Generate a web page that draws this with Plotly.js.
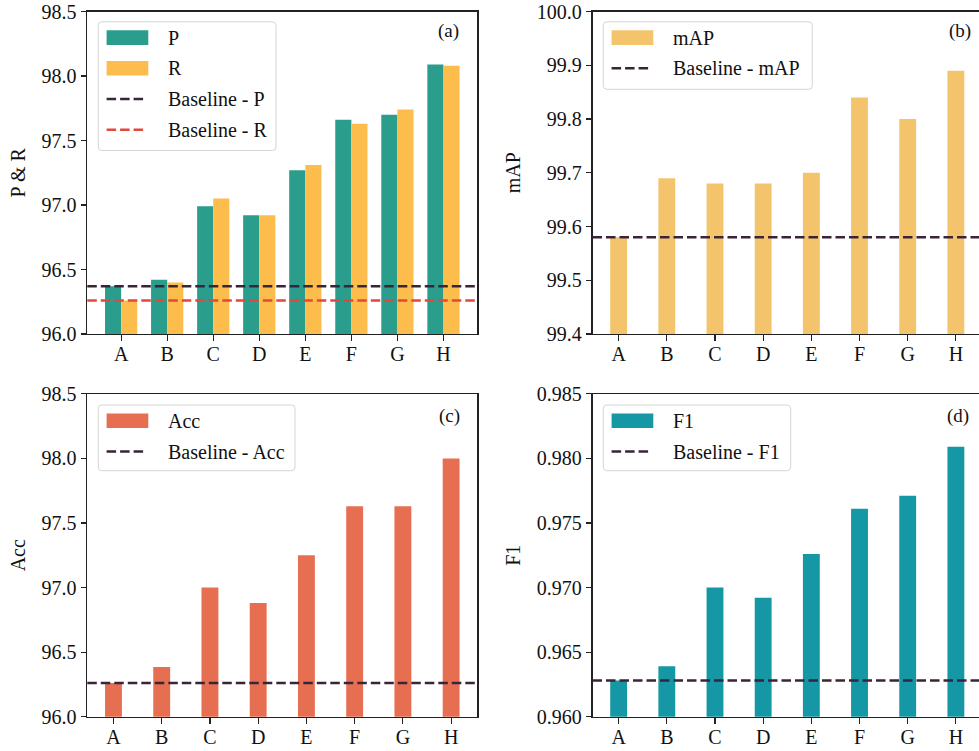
<!DOCTYPE html>
<html>
<head>
<meta charset="utf-8">
<script src="https://cdn.plot.ly/plotly-3.0.1.min.js"></script>
<style>
  html, body { margin: 0; padding: 0; background: #fff; }
  #chart { width: 979px; height: 751px; }
</style>
</head>
<body>
<div id="chart"></div>
<script>
// ---------------- data ----------------
const categories = ['A', 'B', 'C', 'D', 'E', 'F', 'G', 'H'];

const pValues   = [96.37, 96.42, 96.99, 96.92, 97.27, 97.66, 97.70, 98.09];
const rValues   = [96.26, 96.40, 97.05, 96.92, 97.31, 97.63, 97.74, 98.08];
const baselineP = 96.37;
const baselineR = 96.26;

const mapValues   = [99.58, 99.69, 99.68, 99.68, 99.70, 99.84, 99.80, 99.89];
const baselineMap = 99.58;

const accValues   = [96.26, 96.385, 97.00, 96.88, 97.25, 97.63, 97.63, 98.00];
const baselineAcc = 96.26;

const f1Values   = [0.9628, 0.9639, 0.9700, 0.9692, 0.9726, 0.9761, 0.9771, 0.9809];
const baselineF1 = 0.9628;

const yTitles     = ['P & R', 'mAP', 'Acc', 'F1'];
const panelLabels = ['(a)', '(b)', '(c)', '(d)'];
const legendNames = {
  a: ['P', 'R', 'Baseline - P', 'Baseline - R'],
  b: ['mAP', 'Baseline - mAP'],
  c: ['Acc', 'Baseline - Acc'],
  d: ['F1', 'Baseline - F1']
};

// ---------------- styles ----------------
const W = 979, H = 751;
const FONT = 'Liberation Serif, Times New Roman, serif';
const C = {
  p: '#2a9d8c', r: '#fdbd4c', map: '#f4c46c', acc: '#e76f51', f1: '#1597a5',
  base: '#3a2538', baseR: '#e5473a', axis: '#222222', text: '#111111'
};
const px = x => x / W;
const py = y => 1 - y / H;

const traces = [
  {type: 'bar', x: categories, y: pValues, name: legendNames.a[0], marker: {color: C.p},
   offset: -0.35, width: 0.35, xaxis: 'x', yaxis: 'y', showlegend: false, hoverinfo: 'x+y'},
  {type: 'bar', x: categories, y: rValues, name: legendNames.a[1], marker: {color: C.r},
   offset: 0, width: 0.35, xaxis: 'x', yaxis: 'y', showlegend: false, hoverinfo: 'x+y'},
  {type: 'bar', x: categories, y: mapValues, name: legendNames.b[0], marker: {color: C.map},
   width: 0.35, xaxis: 'x2', yaxis: 'y2', showlegend: false, hoverinfo: 'x+y'},
  {type: 'bar', x: categories, y: accValues, name: legendNames.c[0], marker: {color: C.acc},
   width: 0.35, xaxis: 'x3', yaxis: 'y3', showlegend: false, hoverinfo: 'x+y'},
  {type: 'bar', x: categories, y: f1Values, name: legendNames.d[0], marker: {color: C.f1},
   width: 0.35, xaxis: 'x4', yaxis: 'y4', showlegend: false, hoverinfo: 'x+y'}
];

// pixel geometry of the four panels
const panels = {
  a: {x0: 87.3, x1: 477.3, y0: 11.5, y1: 334},
  b: {x0: 592.5, x1: 979, y0: 11.5, y1: 334},
  c: {x0: 87.3, x1: 477.3, y0: 393.8, y1: 716.7},
  d: {x0: 592.5, x1: 979, y0: 393.8, y1: 716.7}
};

function xAxis(p, range, anchor, mirror) {
  return {
    domain: [px(p.x0), px(p.x1)], anchor: anchor, range: range, type: 'category',
    showline: true, linecolor: C.axis, linewidth: 1.3, mirror: mirror,
    ticks: 'outside', ticklen: 5.5, tickwidth: 1.2, tickcolor: C.axis,
    ticklabelstandoff: -4,
    showgrid: false, zeroline: false, fixedrange: true,
    tickfont: {family: FONT, size: 20, color: C.text}
  };
}
function yAxis(p, range, dtick, fmt, anchor, mirror, title) {
  return {
    domain: [py(p.y1), py(p.y0)], anchor: anchor, range: range, dtick: dtick, tick0: range[0],
    tickformat: fmt, showline: true, linecolor: C.axis, linewidth: 1.3, mirror: mirror,
    ticks: 'outside', ticklen: 5.5, tickwidth: 1.2, tickcolor: C.axis,
    showgrid: false, zeroline: false, fixedrange: true,
    tickfont: {family: FONT, size: 20, color: C.text},
    title: {text: title, font: {family: FONT, size: 20, color: C.text}, standoff: 10}
  };
}

const shapes = [];
const annotations = [];

function baseline(xref, yref, value, color) {
  shapes.push({type: 'line', xref: xref + ' domain', yref: yref, x0: 0, x1: 1, y0: value, y1: value,
    line: {color: color, width: 2.5, dash: '9.5px,4px'}, layer: 'above'});
}
baseline('x', 'y', baselineP, C.base);
baseline('x', 'y', baselineR, C.baseR);
baseline('x2', 'y2', baselineMap, C.base);
baseline('x3', 'y3', baselineAcc, C.base);
baseline('x4', 'y4', baselineF1, C.base);

function roundedRect(x0, y0, x1, y1, r) {
  const X = v => px(v).toFixed(5), Y = v => py(v).toFixed(5);
  return 'M' + X(x0 + r) + ',' + Y(y0) +
    ' L' + X(x1 - r) + ',' + Y(y0) + ' Q' + X(x1) + ',' + Y(y0) + ' ' + X(x1) + ',' + Y(y0 + r) +
    ' L' + X(x1) + ',' + Y(y1 - r) + ' Q' + X(x1) + ',' + Y(y1) + ' ' + X(x1 - r) + ',' + Y(y1) +
    ' L' + X(x0 + r) + ',' + Y(y1) + ' Q' + X(x0) + ',' + Y(y1) + ' ' + X(x0) + ',' + Y(y1 - r) +
    ' L' + X(x0) + ',' + Y(y0 + r) + ' Q' + X(x0) + ',' + Y(y0) + ' ' + X(x0 + r) + ',' + Y(y0) + ' Z';
}

// custom matplotlib-style legend: items = [{name, kind:'bar'|'dash', color}]
function legend(fx0, fy0, fx1, fy1, items) {
  shapes.push({type: 'path', xref: 'paper', yref: 'paper', path: roundedRect(fx0, fy0, fx1, fy1, 3.5),
    fillcolor: 'rgba(255,255,255,0.8)', line: {color: '#d5d5d5', width: 1}, layer: 'above'});
  const sx0 = fx0 + 8.3, sx1 = fx0 + 50, tx = fx0 + 68;
  items.forEach((it, i) => {
    const cy = fy0 + 15.8 + i * 30.7;
    if (it.kind === 'bar') {
      shapes.push({type: 'rect', xref: 'paper', yref: 'paper', x0: px(sx0), x1: px(sx1),
        y0: py(cy + 7.3), y1: py(cy - 7.3), fillcolor: it.color, line: {width: 0}, layer: 'above'});
    } else {
      shapes.push({type: 'line', xref: 'paper', yref: 'paper', x0: px(sx0), x1: px(sx1 - 3),
        y0: py(cy), y1: py(cy), line: {color: it.color, width: 2.5, dash: '9.5px,4px'}, layer: 'above'});
    }
    annotations.push({xref: 'paper', yref: 'paper', x: px(tx), y: py(cy), xanchor: 'left', yanchor: 'middle',
      text: it.name, showarrow: false, font: {family: FONT, size: 20, color: C.text}});
  });
}
legend(98.3, 21.8, 276, 150.5, [
  {name: legendNames.a[0], kind: 'bar', color: C.p},
  {name: legendNames.a[1], kind: 'bar', color: C.r},
  {name: legendNames.a[2], kind: 'dash', color: C.base},
  {name: legendNames.a[3], kind: 'dash', color: C.baseR}
]);
legend(603.3, 21.8, 812.3, 89.3, [
  {name: legendNames.b[0], kind: 'bar', color: C.map},
  {name: legendNames.b[1], kind: 'dash', color: C.base}
]);
legend(98.3, 405, 295, 470.7, [
  {name: legendNames.c[0], kind: 'bar', color: C.acc},
  {name: legendNames.c[1], kind: 'dash', color: C.base}
]);
legend(603.3, 405, 790.7, 470.7, [
  {name: legendNames.d[0], kind: 'bar', color: C.f1},
  {name: legendNames.d[1], kind: 'dash', color: C.base}
]);

// panel labels
[[460.5, 31], [973, 31], [461.5, 415.5], [970.5, 415.5]].forEach((pos, i) => {
  annotations.push({xref: 'paper', yref: 'paper', x: px(pos[0]), y: py(pos[1]), xanchor: 'right', yanchor: 'middle',
    text: panelLabels[i], showarrow: false, font: {family: FONT, size: 19, color: C.text}});
});

const layout = {
  width: W, height: H,
  margin: {l: 0, r: 0, t: 0, b: 0},
  paper_bgcolor: '#ffffff', plot_bgcolor: '#ffffff',
  showlegend: false, barmode: 'overlay',
  font: {family: FONT, size: 20, color: C.text},
  xaxis:  xAxis(panels.a, [-0.735, 7.735], 'y', true),
  yaxis:  yAxis(panels.a, [96.0, 98.5], 0.5, '.1f', 'x', true, yTitles[0]),
  xaxis2: xAxis(panels.b, [-0.5425, 7.48], 'y2', true),
  yaxis2: yAxis(panels.b, [99.4, 100.0], 0.1, '.1f', 'x2', false, yTitles[1]),
  xaxis3: xAxis(panels.c, [-0.5425, 7.5425], 'y3', true),
  yaxis3: yAxis(panels.c, [96.0, 98.5], 0.5, '.1f', 'x3', true, yTitles[2]),
  xaxis4: xAxis(panels.d, [-0.5425, 7.48], 'y4', true),
  yaxis4: yAxis(panels.d, [0.960, 0.985], 0.005, '.3f', 'x4', false, yTitles[3]),
  shapes: shapes,
  annotations: annotations
};

Plotly.newPlot('chart', traces, layout, {displayModeBar: false, staticPlot: true});
</script>
</body>
</html>
